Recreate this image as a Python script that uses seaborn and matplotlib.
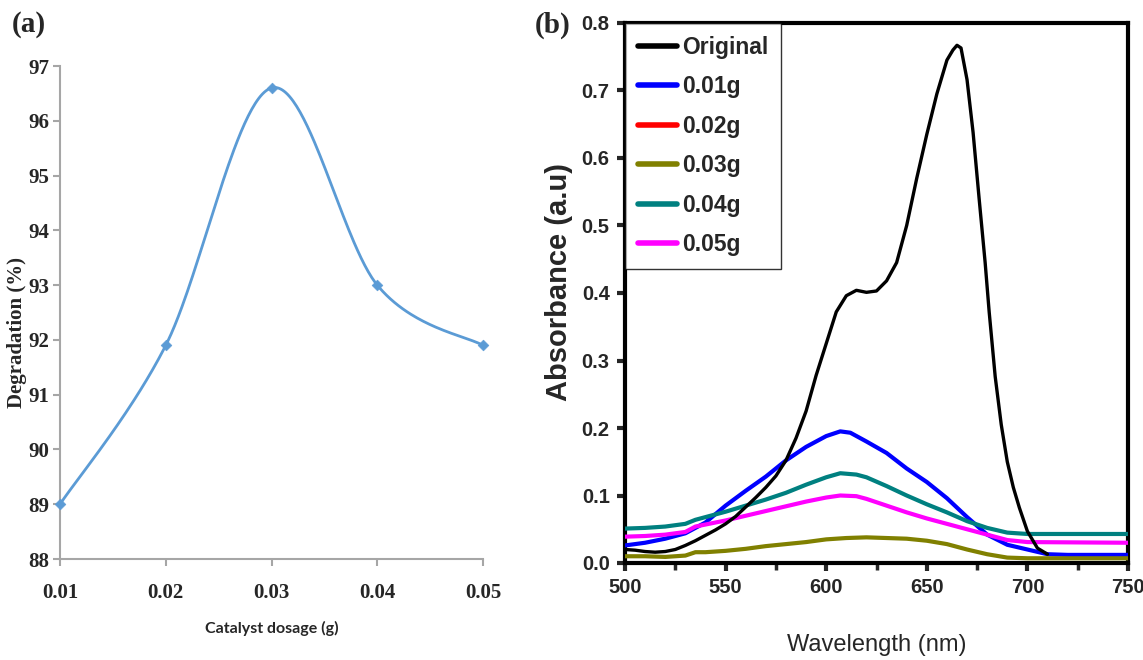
import numpy as np
import pandas as pd
import matplotlib
matplotlib.use("Agg")
import matplotlib.pyplot as plt
from matplotlib.lines import Line2D
from matplotlib.ticker import MultipleLocator
import seaborn as sns

# ---------------- data: panel (a) ----------------
dosage = [0.01, 0.02, 0.03, 0.04, 0.05]
degradation = [89.0, 91.9, 96.6, 93.0, 91.9]

# ---------------- data: panel (b) ----------------
orig_wl = [500, 505, 510, 515, 520, 525, 530, 535, 540, 545, 550, 555, 560, 565, 570,
           575, 580, 585, 590, 595, 600, 605, 610, 615, 620, 625, 630, 635, 640, 645,
           650, 655, 660, 663, 665, 667, 670, 673, 676, 679, 681, 684, 687, 690, 693,
           696, 700, 705, 710]
orig_abs = [0.020, 0.019, 0.017, 0.016, 0.017, 0.020, 0.026, 0.033, 0.041, 0.049, 0.058,
            0.069, 0.083, 0.097, 0.112, 0.129, 0.152, 0.185, 0.225, 0.278, 0.325, 0.372,
            0.396, 0.404, 0.401, 0.403, 0.418, 0.445, 0.500, 0.570, 0.635, 0.695, 0.745,
            0.760, 0.767, 0.763, 0.716, 0.638, 0.540, 0.445, 0.372, 0.276, 0.205, 0.150,
            0.112, 0.082, 0.047, 0.022, 0.013]

g001_wl = [500, 510, 520, 530, 535, 540, 550, 560, 570, 580, 590, 600, 607, 612, 620,
           630, 640, 650, 660, 670, 680, 690, 700, 710, 720, 750]
g001_abs = [0.026, 0.030, 0.036, 0.044, 0.052, 0.060, 0.085, 0.107, 0.128, 0.152, 0.172,
            0.188, 0.195, 0.193, 0.180, 0.163, 0.140, 0.120, 0.096, 0.068, 0.042, 0.027,
            0.020, 0.013, 0.012, 0.012]

g003_wl = [500, 510, 520, 530, 535, 540, 550, 560, 570, 580, 590, 600, 610, 620, 630,
           640, 650, 660, 670, 680, 690, 700, 750]
g003_abs = [0.010, 0.010, 0.009, 0.011, 0.016, 0.016, 0.018, 0.021, 0.025, 0.028, 0.031,
            0.035, 0.037, 0.038, 0.037, 0.036, 0.033, 0.028, 0.020, 0.013, 0.008, 0.007,
            0.007]

g004_wl = [500, 510, 520, 530, 535, 540, 550, 560, 570, 580, 590, 600, 607, 615, 620,
           630, 640, 650, 660, 670, 680, 690, 700, 750]
g004_abs = [0.051, 0.052, 0.054, 0.058, 0.064, 0.068, 0.076, 0.085, 0.094, 0.104, 0.116,
            0.127, 0.133, 0.131, 0.127, 0.114, 0.100, 0.087, 0.075, 0.062, 0.052, 0.045,
            0.043, 0.043]

g005_wl = [500, 510, 520, 530, 535, 540, 550, 560, 570, 580, 590, 600, 607, 615, 620,
           630, 640, 650, 660, 670, 680, 690, 700, 750]
g005_abs = [0.039, 0.040, 0.042, 0.046, 0.054, 0.057, 0.063, 0.070, 0.077, 0.084, 0.091,
            0.097, 0.100, 0.099, 0.095, 0.085, 0.075, 0.066, 0.058, 0.050, 0.042, 0.034,
            0.031, 0.030]

legend_labels = ["Original", "0.01g", "0.02g", "0.03g", "0.04g", "0.05g"]
legend_colors = ["#000000", "#0000FF", "#FF0000", "#808000", "#008080", "#FF00FF"]

# ---------------- style ----------------
sns.set_theme(style="ticks")
plt.rcParams["font.family"] = ["Liberation Sans", "DejaVu Sans"]

fig = plt.figure(figsize=(11.43, 6.6), dpi=100)
W, H = 1143, 660


def ax_rect(l, t, r, b):
    return [l / W, 1 - b / H, (r - l) / W, (b - t) / H]


# =============== panel (a) ===============
axa = fig.add_axes(ax_rect(60, 66, 483, 559))


def excel_smooth(xs, ys, xr, yr, n=60):
    # Bezier smoothing in normalised (screen-like) space, as a spreadsheet does
    asp = 493 / 423
    px = (np.asarray(xs) - xr[0]) / (xr[1] - xr[0])
    py = (np.asarray(ys) - yr[0]) / (yr[1] - yr[0]) * asp
    P = np.column_stack([px, py])
    Pe = np.vstack([P[0], P, P[-1]])
    out = []
    t = np.linspace(0, 1, n)[:, None]
    for i in range(len(P) - 1):
        p0, p3 = Pe[i + 1], Pe[i + 2]
        c1 = p0 + (Pe[i + 2] - Pe[i]) / 6
        c2 = p3 - (Pe[i + 3] - Pe[i + 1]) / 6
        seg = ((1 - t) ** 3) * p0 + 3 * ((1 - t) ** 2) * t * c1 + 3 * (1 - t) * t ** 2 * c2 + t ** 3 * p3
        out.append(seg)
    S = np.vstack(out)
    sx = S[:, 0] * (xr[1] - xr[0]) + xr[0]
    sy = S[:, 1] / asp * (yr[1] - yr[0]) + yr[0]
    return sx, sy


sx, sy = excel_smooth(dosage, degradation, (0.01, 0.05), (88, 97))
smooth_df = pd.DataFrame({"x": sx, "y": sy})
sns.lineplot(data=smooth_df, x="x", y="y", ax=axa, color="#5B9BD5", lw=2.0,
             sort=False, estimator=None)
sns.scatterplot(x=dosage, y=degradation, ax=axa, color="#5B9BD5", marker="D",
                s=30, edgecolor="#5B9BD5", zorder=5, clip_on=False)

axa.set_xlim(0.01, 0.05)
axa.set_ylim(88, 97)
axa.set_xticks(dosage)
axa.set_xticklabels([f"{d:.2f}" for d in dosage])
axa.set_yticks(range(88, 98))
for s in ["top", "right"]:
    axa.spines[s].set_visible(False)
for s in ["left", "bottom"]:
    axa.spines[s].set_color("#A6A6A6")
    axa.spines[s].set_linewidth(1.5)
axa.tick_params(axis="both", direction="out", length=5, width=1.5, color="#A6A6A6")
axa.tick_params(axis="y", pad=3)
axa.tick_params(axis="x", pad=12)
for lab in axa.get_xticklabels() + axa.get_yticklabels():
    lab.set_fontfamily("Liberation Serif")
    lab.set_fontweight("bold")
    lab.set_fontsize(15)
axa.set_xlabel("Catalyst dosage (g)", fontfamily="Lato", fontweight="bold", fontsize=11.5)
axa.xaxis.set_label_coords(0.5, -0.126)
axa.set_ylabel("Degradation (%)", fontfamily="Liberation Serif", fontweight="bold",
               fontsize=15)
axa.yaxis.set_label_coords(-0.078, 0.46)
fig.text(12 / W, 1 - 25 / H, "(a)", fontfamily="Liberation Serif", fontweight="bold",
         fontsize=21, va="center", ha="left")

# =============== panel (b) ===============
axb = fig.add_axes(ax_rect(625, 23, 1128, 563))

series = [
    (orig_wl, orig_abs, "#000000", 2.4, 6),
    (g001_wl, g001_abs, "#0000FF", 3.0, 3),
    (g004_wl, g004_abs, "#008080", 3.0, 3),
    (g005_wl, g005_abs, "#FF00FF", 3.0, 3),
    (g003_wl, g003_abs, "#808000", 3.0, 4),
]
for wl, ab, col, lw, z in series:
    sns.lineplot(x=wl, y=ab, ax=axb, color=col, lw=lw, zorder=z)

axb.set_xlim(500, 750)
axb.set_ylim(0, 0.8)
axb.xaxis.set_major_locator(MultipleLocator(50))
axb.xaxis.set_minor_locator(MultipleLocator(25))
axb.yaxis.set_major_locator(MultipleLocator(0.1))
axb.yaxis.set_major_formatter(matplotlib.ticker.FormatStrFormatter("%.1f"))
for s in axb.spines.values():
    s.set_linewidth(3)
    s.set_color("black")
axb.tick_params(axis="both", which="major", direction="out", length=6, width=3,
                labelsize=14.5, pad=5)
axb.tick_params(axis="x", which="minor", direction="out", length=5, width=2.5)
for lab in axb.get_xticklabels() + axb.get_yticklabels():
    lab.set_fontweight("bold")
axb.set_xlabel("Wavelength (nm)", fontsize=17)
axb.xaxis.set_label_coords(0.5, -0.132)
axb.set_ylabel("Absorbance (a.u)", fontsize=21, fontweight="bold")
axb.yaxis.set_label_coords(-0.103, 0.52)

handles = [Line2D([0], [0], color=c, lw=4) for c in legend_colors]
leg = axb.legend(handles, legend_labels, loc="upper left", bbox_to_anchor=(0, 1),
                 borderaxespad=0, frameon=True, fancybox=False, edgecolor="black",
                 handlelength=1.7, handletextpad=0.25, labelspacing=0.72,
                 borderpad=0.55, prop={"family": "Liberation Sans", "weight": "bold",
                                        "size": 16.5})
leg.get_frame().set_linewidth(1.0)
leg.set_zorder(10)

fig.text(535 / W, 1 - 25 / H, "(b)", fontfamily="Liberation Serif", fontweight="bold",
         fontsize=21, va="center", ha="left")

fig.savefig("out.png", dpi=100)
